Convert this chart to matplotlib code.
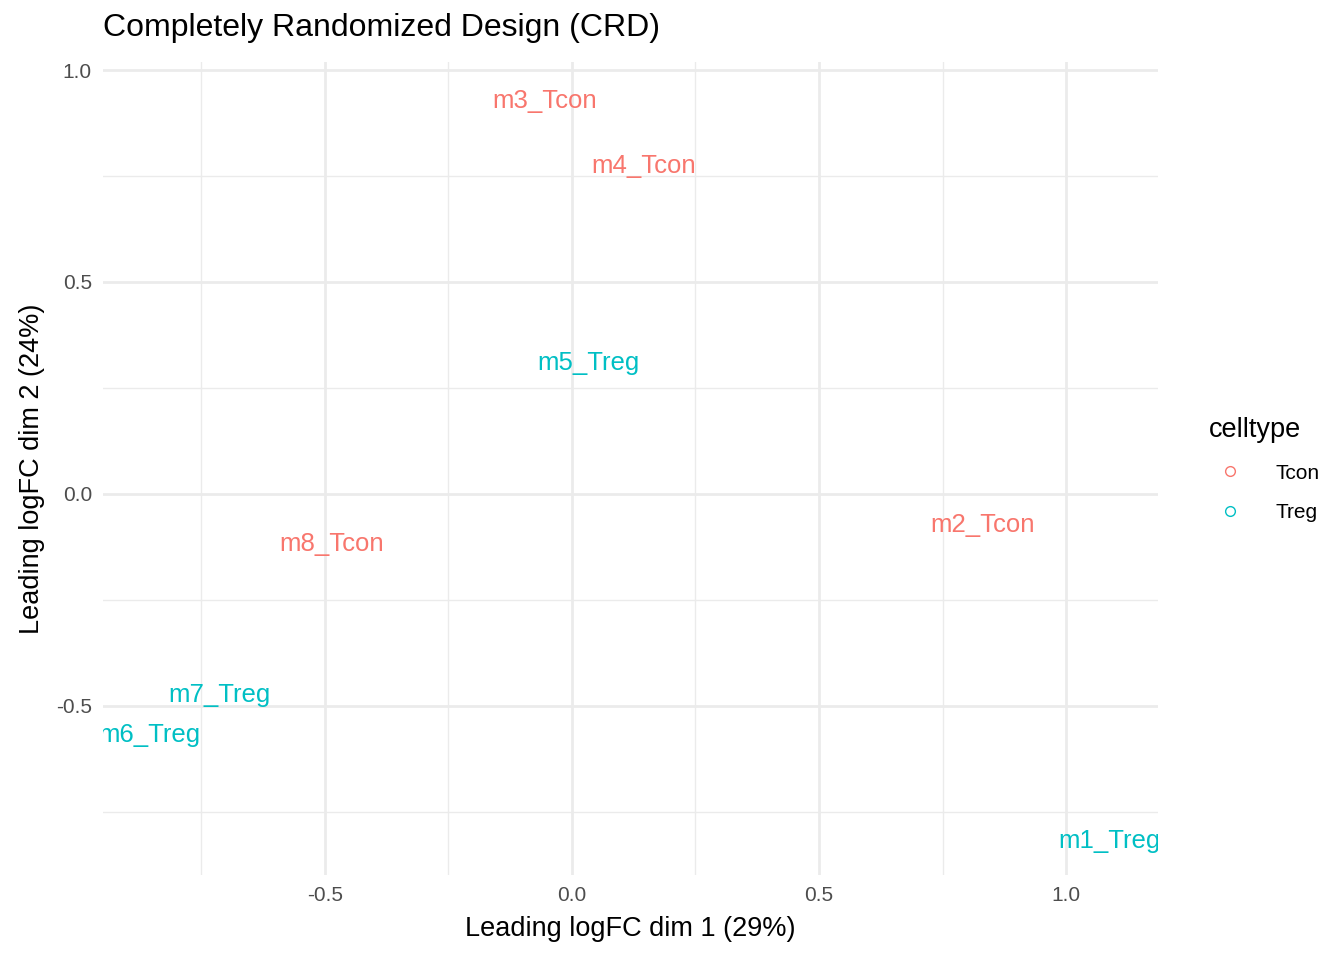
import matplotlib
matplotlib.use("Agg")
import matplotlib.pyplot as plt
from matplotlib.lines import Line2D

plt.rcParams['font.family'] = ['Liberation Sans', 'DejaVu Sans']

labels = ["m1_Treg", "m2_Tcon", "m3_Tcon", "m4_Tcon", "m5_Treg", "m6_Treg", "m7_Treg", "m8_Tcon"]
celltype = ["Treg", "Tcon", "Tcon", "Tcon", "Treg", "Treg", "Treg", "Tcon"]
dim1 = [1.087, 0.832, -0.055, 0.146, 0.034, -0.856, -0.713, -0.486]
dim2 = [-0.818, -0.073, 0.927, 0.774, 0.309, -0.568, -0.474, -0.118]
colors = {"Tcon": "#F8766D", "Treg": "#00BFC4"}

fig = plt.figure(figsize=(13.44, 9.6), dpi=100)
ax = fig.add_axes([103/1344, 1-875/960, (1158-103)/1344, (875-62)/960])
ax.set_xlim(-0.949, 1.186)
ax.set_ylim(-0.899, 1.019)
for x, y, l, c in zip(dim1, dim2, labels, celltype):
    ax.text(x, y, l, color=colors[c], fontsize=18.5, ha="center", va="center", clip_on=True)

ax.set_xticks([-0.5, 0, 0.5, 1.0])
ax.set_xticklabels(["-0.5", "0.0", "0.5", "1.0"])
ax.set_yticks([-0.5, 0, 0.5, 1.0])
ax.set_yticklabels(["-0.5", "0.0", "0.5", "1.0"])
ax.set_xticks([-0.75, -0.25, 0.25, 0.75], minor=True)
ax.set_yticks([-0.75, -0.25, 0.25, 0.75], minor=True)
ax.grid(True, which="major", color="#EBEBEB", lw=2)
ax.grid(True, which="minor", color="#EBEBEB", lw=1)
ax.set_axisbelow(True)
for s in ax.spines.values():
    s.set_visible(False)
ax.tick_params(length=0, labelsize=15, colors="#4D4D4D", pad=8, which="both")
ax.set_xlabel("Leading logFC dim 1 (29%)", fontsize=19.5, labelpad=8)
ax.set_ylabel("Leading logFC dim 2 (24%)", fontsize=19.5, labelpad=8)
fig.text(103/1344, 1-28/960, "Completely Randomized Design (CRD)", fontsize=23, va="center")

handles = [Line2D([], [], marker="o", ls="", mfc="none", mec=colors[k], ms=7, label=k) for k in ["Tcon", "Treg"]]
leg = fig.legend(handles=handles, title="celltype", loc="upper left", bbox_to_anchor=(1190/1344, 1-398/960),
                 frameon=False, fontsize=15, title_fontsize=19.5, handletextpad=1.2, labelspacing=1.0)
leg._legend_box.align = "left"
fig.savefig("out.png")
